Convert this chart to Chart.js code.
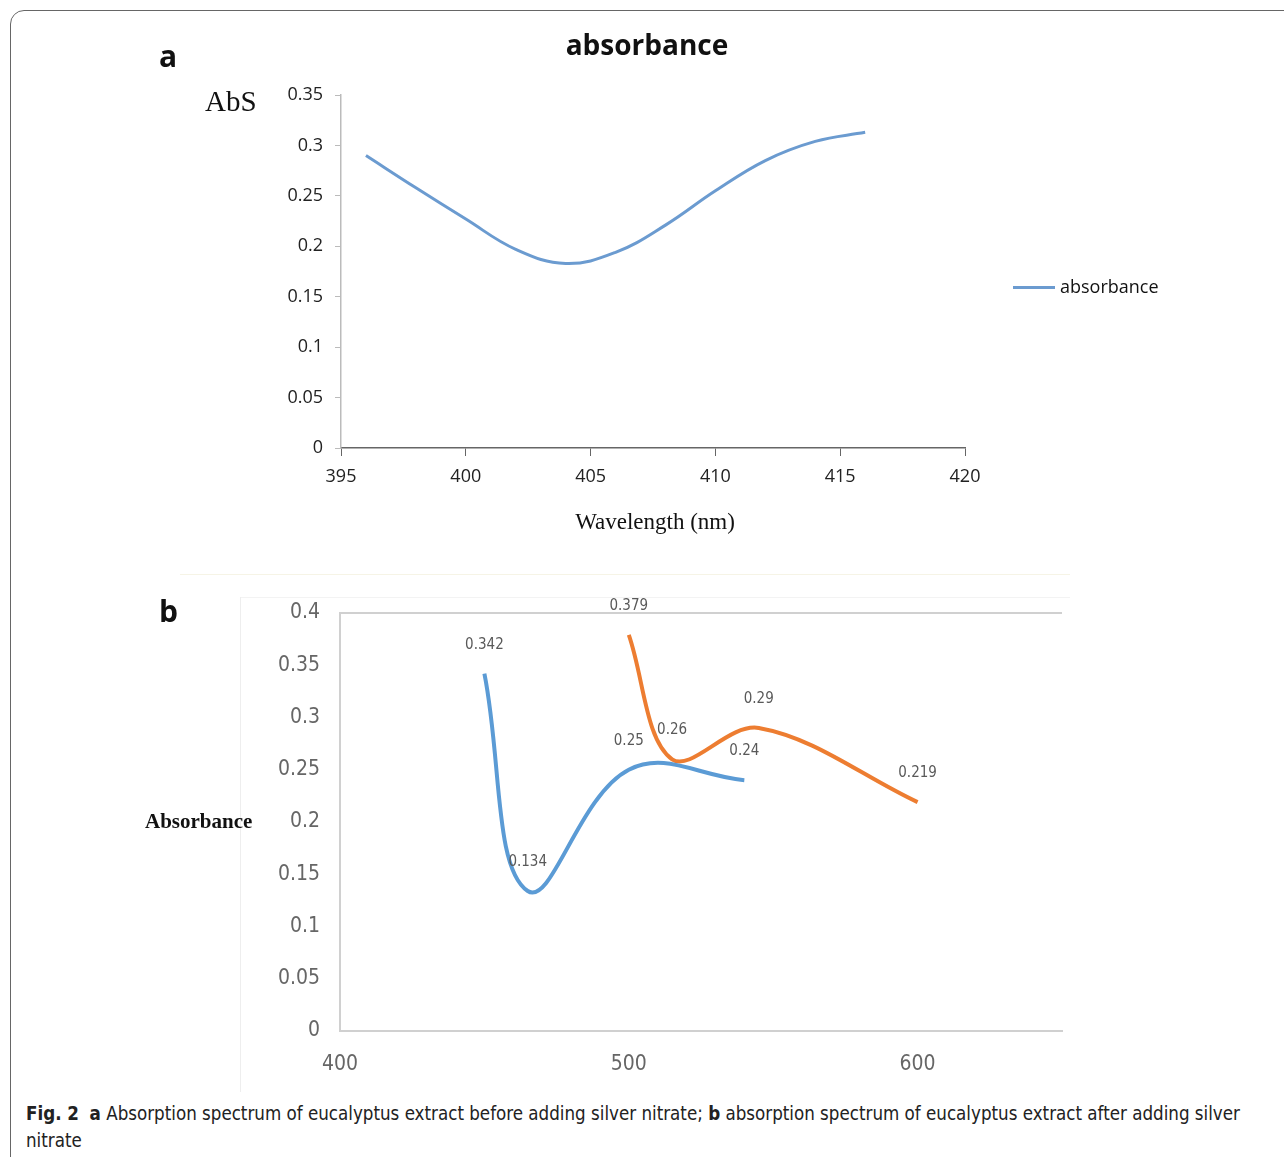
<!DOCTYPE html>
<html>
<head>
<meta charset="utf-8">
<script src="https://cdn.jsdelivr.net/npm/chart.js@4.4.1/dist/chart.umd.min.js"></script>
<style>
  body { margin: 0; width: 1284px; height: 1157px; background: #fff; position: relative; overflow: hidden; }
  .frame { position: absolute; left: 10px; top: 10px; width: 1290px; height: 1170px; border: 1.5px solid #666; border-radius: 14px; }
  .abs { position: absolute; white-space: nowrap; }
  canvas { position: absolute; left: 0; }
  #chartA { top: 0; }
  #chartB { top: 580px; }
</style>
</head>
<body>
<div class="frame"></div>
<div class="abs" style="left:180px;top:574px;width:890px;height:1px;background:#f6f4e6"></div>
<div class="abs" style="left:240px;top:597px;width:830px;height:1px;background:#f3f3f3"></div>
<div class="abs" style="left:240px;top:597px;width:1px;height:495px;background:#eeeeee"></div>

<canvas id="chartA" width="1284" height="560"></canvas>
<canvas id="chartB" width="1284" height="520"></canvas>

<div class="abs" style="left:159px;top:35px;font:bold 30px 'Open Sans';color:#111">a</div>
<div class="abs" id="titleA" style="left:647px;top:25px;transform:translateX(-50%);font:bold 28px 'Open Sans';color:#111"></div>
<div class="abs" style="left:205px;top:85px;font:29px 'Liberation Serif';color:#111">AbS</div>
<div class="abs" style="left:655px;top:509px;transform:translateX(-50%);font:23px 'Liberation Serif';color:#111">Wavelength (nm)</div>
<div class="abs" style="left:1013px;top:286px;width:42px;height:3px;background:#6b9bd0"></div>
<div class="abs" id="legendA" style="left:1060px;top:274px;font:18px 'Open Sans';color:#111"></div>

<div class="abs" style="left:159px;top:590px;font:bold 30px 'Open Sans';color:#111">b</div>
<div class="abs" style="left:145px;top:809px;font:bold 21px 'Liberation Serif';color:#111">Absorbance</div>

<div class="abs" style="left:26px;top:1100px;font:18.6px 'Liberation Sans Narrow','DejaVu Sans Condensed';color:#222;line-height:27px">
  <b>Fig. 2</b>&nbsp; <b>a</b> Absorption spectrum of eucalyptus extract before adding silver nitrate; <b>b</b> absorption spectrum of eucalyptus extract after adding silver<br>nitrate
</div>

<script>
// panel a
const seriesAName = "absorbance";
const wavelengthA = [396, 398, 400, 402, 404, 406, 408, 410, 412, 414, 416];
const absorbA = [0.290, 0.258, 0.227, 0.197, 0.183, 0.194, 0.221, 0.255, 0.285, 0.304, 0.313];

// panel b
const blueX = [450, 465, 500, 540];
const blueY = [0.342, 0.134, 0.25, 0.24];
const orangeX = [500, 515, 545, 600];
const orangeY = [0.379, 0.26, 0.29, 0.219];

const narrow = "'Liberation Sans Narrow', 'DejaVu Sans Condensed', sans-serif";

document.getElementById('titleA').textContent = seriesAName;
document.getElementById('legendA').textContent = seriesAName;

function toPoints(xs, ys) {
  return xs.map((x, i) => ({ x: x, y: ys[i] }));
}

// 0.30 -> 0.3 like the original axis
const shortNum = v => String(Number(v.toFixed(2)));

new Chart(document.getElementById('chartA'), {
  type: 'line',
  data: {
    datasets: [{
      label: seriesAName,
      data: toPoints(wavelengthA, absorbA),
      borderColor: '#6b9bd0',
      borderWidth: 3,
      pointRadius: 0,
      tension: 0.4,
      fill: false
    }]
  },
  options: {
    responsive: false,
    animation: false,
    layout: { padding: { left: 0, top: 95, right: 319, bottom: 0 } },
    plugins: { legend: { display: false }, tooltip: { enabled: false } },
    scales: {
      x: {
        type: 'linear', min: 395, max: 420,
        ticks: { stepSize: 5, color: '#222', font: { family: 'Open Sans', size: 18 }, padding: 10 },
        grid: { drawOnChartArea: false, tickLength: 8, color: '#666' },
        border: { color: '#666', width: 1.5 },
        afterFit: s => { s.height = 112; }
      },
      y: {
        min: 0, max: 0.35,
        ticks: { stepSize: 0.05, color: '#222', font: { family: 'Open Sans', size: 18 }, padding: 12, callback: shortNum },
        grid: { drawOnChartArea: false, tickLength: 6, color: '#bbb' },
        border: { color: '#bbb', width: 1.5 },
        afterFit: s => { s.width = 341; }
      }
    }
  }
});

// values written above each point, like the spreadsheet's data labels
const pointLabels = {
  id: 'pointLabels',
  afterDatasetsDraw(chart) {
    const ctx = chart.ctx;
    ctx.save();
    ctx.font = "15px " + narrow;
    ctx.fillStyle = '#595959';
    ctx.textAlign = 'center';
    ctx.textBaseline = 'middle';
    chart.data.datasets.forEach((ds, i) => {
      chart.getDatasetMeta(i).data.forEach((pt, j) => {
        ctx.fillText(String(ds.data[j].y), pt.x, pt.y - 29);
      });
    });
    ctx.restore();
  }
};

new Chart(document.getElementById('chartB'), {
  type: 'line',
  data: {
    datasets: [{
      label: 'before',
      data: toPoints(blueX, blueY),
      borderColor: '#5b9bd5',
      borderWidth: 4,
      pointRadius: 0,
      tension: 0.4,
      fill: false
    }, {
      label: 'after',
      data: toPoints(orangeX, orangeY),
      borderColor: '#ed7d31',
      borderWidth: 4,
      pointRadius: 0,
      tension: 0.35,
      fill: false
    }]
  },
  options: {
    responsive: false,
    animation: false,
    layout: { padding: { left: 0, top: 33, right: 222, bottom: 0 } },
    plugins: { legend: { display: false }, tooltip: { enabled: false } },
    scales: {
      x: {
        type: 'linear', min: 400, max: 650,
        ticks: { stepSize: 100, includeBounds: false, color: '#666', font: { family: narrow, size: 21 }, padding: 21 },
        grid: { drawOnChartArea: false, drawTicks: false },
        border: { color: '#d0d0d0', width: 2 },
        afterFit: s => { s.height = 69; }
      },
      y: {
        min: 0, max: 0.4,
        ticks: { stepSize: 0.05, color: '#666', font: { family: narrow, size: 21 }, padding: 20, callback: shortNum },
        grid: {
          drawTicks: false,
          lineWidth: 2,
          color: c => (Math.abs(c.tick.value - 0.4) < 1e-9 ? '#d0d0d0' : 'rgba(0,0,0,0)')
        },
        border: { color: '#d0d0d0', width: 2 },
        afterFit: s => { s.width = 340; }
      }
    }
  },
  plugins: [pointLabels]
});
</script>
</body>
</html>
